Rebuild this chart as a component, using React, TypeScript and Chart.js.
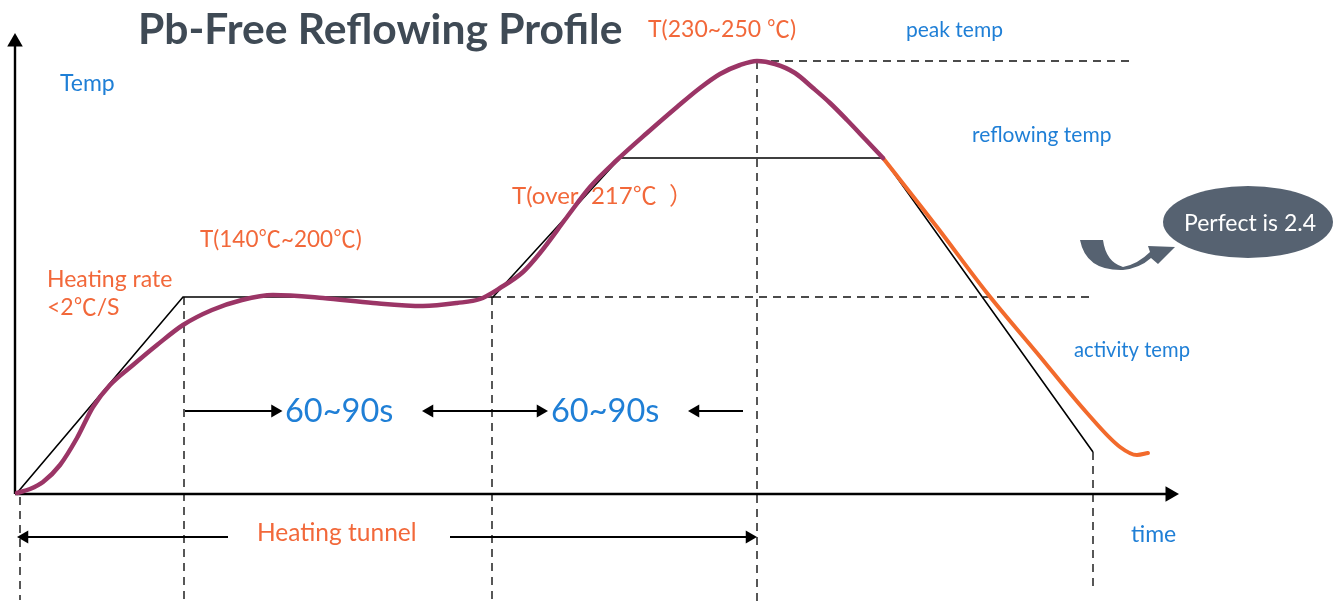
import React, { useEffect, useRef } from "react";
import { Chart, registerables } from "chart.js";
Chart.register(...registerables);

// Coordinate frame: time measured right of the origin, temperature above the time axis
const X_MIN = -17;
const X_MAX = 1317;
const Y_MIN = -112;
const Y_MAX = 493;

// Actual reflow profile (purple)
const profileTime = [0, 13, 26, 43, 60, 76, 93, 116, 140, 166, 195, 225, 256, 306, 356, 406, 440, 463, 483, 506, 523, 550, 573, 600, 630, 660, 683, 703, 723, 740, 758, 778, 796, 813, 830, 849, 866];
const profileTemp = [0, 4, 11, 28, 55, 86, 108, 128, 148, 168, 183, 193, 198, 195, 190, 187, 190, 194, 205, 221, 240, 276, 306, 333, 360, 386, 405, 419, 428, 432, 429, 420, 405, 390, 373, 353, 335];

// Cooling section (orange)
const coolTime = [866, 920, 970, 1020, 1070, 1103, 1120, 1131];
const coolTemp = [335, 266, 200, 140, 80, 46, 38, 40];

// Ideal trapezoid profile (thin black)
const idealTime = [0, 166, 476, 603, 866, 1076];
const idealTemp = [0, 196, 196, 335, 335, 41];

// Dashed guide lines [t1, T1, t2, T2]
const guideSegments = [
  [476, 196, 1076, 196],
  [740, 432, 1116, 432],
  [3, -4, 3, -107],
  [167, 196, 167, -112],
  [475, 196, 475, -112],
  [740, 432, 740, -112],
  [1076, 41, 1076, -97],
];

// Axes and dimension arrows [t1, T1, t2, T2]
const axisSegments = [
  [-2, -1, -2, 451],
  [-2, -1, 1153, -1],
];
const arrowSegments = [
  [168, 82, 258, 82],
  [412, 82, 524, 82],
  [678, 82, 726, 82],
  [7, -44, 211, -44],
  [433, -44, 733, -44],
];
// Arrowheads [t, T, rotation]
const axisHeads = [
  [-2, 451, 0],
  [1153, -1, 90],
];
const arrowHeads = [
  [258, 82, 90],
  [412.5, 82, 270],
  [523.5, 82, 90],
  [678.5, 82, 270],
  [7.5, -44, 270],
  [732.5, -44, 90],
];

// Text labels
const labelTexts = [
  "Pb-Free Reflowing Profile",
  "T(230~250 ℃)",
  "peak temp",
  "Temp",
  "reflowing temp",
  "T(over  217℃  ）",
  "T(140℃~200℃)",
  "Heating rate",
  "<2℃/S",
  "activity temp",
  "60~90s",
  "60~90s",
  "Heating tunnel",
  "time",
  "Perfect is 2.4",
];

const BLUE = "#1f7fd6";
const ORANGE = "#f2683a";
const TITLE = "#3f4a55";
const BUBBLE = "#566271";
const FONT = "Lato, 'Noto Sans CJK SC', 'DejaVu Sans', sans-serif";

// label layout: [t, T, size, color, weight, align]
const labelLayout: [number, number, number, string, string, string][] = [
  [121, 449, 42.6, TITLE, "bold", "left"],
  [631, 456, 23, ORANGE, "normal", "left"],
  [889, 456, 21, BLUE, "normal", "left"],
  [43, 402, 23, BLUE, "normal", "left"],
  [955, 351, 21, BLUE, "normal", "left"],
  [495, 289, 24, ORANGE, "normal", "left"],
  [183, 246, 22.5, ORANGE, "normal", "left"],
  [30, 206, 23, ORANGE, "normal", "left"],
  [30, 178, 23, ORANGE, "normal", "left"],
  [1057, 136, 20.2, BLUE, "normal", "left"],
  [268, 71, 32.5, BLUE, "normal", "left"],
  [534, 71, 32.5, BLUE, "normal", "left"],
  [240, -48, 24.5, ORANGE, "normal", "left"],
  [1114, -49, 23, BLUE, "normal", "left"],
  [1233, 262, 23, "#ffffff", "normal", "center"],
];

const toPoints = (xs: number[], ys: number[]) => xs.map((x, i) => ({ x, y: ys[i] }));

const annotationPlugin = {
  id: "annotations",
  beforeDatasetsDraw(chart: any) {
    const { ctx, scales } = chart;
    const px = (t: number) => scales.x.getPixelForValue(t);
    const py = (v: number) => scales.y.getPixelForValue(v);
    ctx.save();
    // speech bubble
    ctx.fillStyle = BUBBLE;
    ctx.beginPath();
    ctx.ellipse(px(1231), py(271), 85, 36, 0, 0, Math.PI * 2);
    ctx.fill();
    // curved arrow icon
    const ox = px(1061);
    const oy = py(253);
    ctx.beginPath();
    ctx.moveTo(ox + 2, oy + 0);
    ctx.quadraticCurveTo(ox + 8, oy + 31, ox + 45, oy + 30);
    ctx.quadraticCurveTo(ox + 62, oy + 28, ox + 73, oy + 18);
    ctx.lineTo(ox + 80, oy + 24);
    ctx.lineTo(ox + 97, oy + 7);
    ctx.lineTo(ox + 70, oy + 6);
    ctx.lineTo(ox + 72, oy + 12);
    ctx.quadraticCurveTo(ox + 60, oy + 24, ox + 45, oy + 27);
    ctx.quadraticCurveTo(ox + 28, oy + 22, ox + 25, oy + 0);
    ctx.closePath();
    ctx.fill();
    ctx.restore();
  },
  afterDatasetsDraw(chart: any) {
    const { ctx, scales } = chart;
    const px = (t: number) => scales.x.getPixelForValue(t);
    const py = (v: number) => scales.y.getPixelForValue(v);
    ctx.save();
    labelTexts.forEach((text, i) => {
      const [t, T, size, color, weight, align] = labelLayout[i];
      ctx.font = `${weight} ${size}px ${FONT}`;
      ctx.fillStyle = color;
      ctx.textAlign = align as CanvasTextAlign;
      ctx.textBaseline = "alphabetic";
      ctx.fillText(text, px(t), py(T));
    });
    ctx.restore();
  },
};

export default function App() {
  const canvasRef = useRef<HTMLCanvasElement | null>(null);

  useEffect(() => {
    if (!canvasRef.current) return;
    const segDataset = (s: number[], color: string, width: number, dash: number[], order: number) => ({
      type: "scatter" as const,
      data: [
        { x: s[0], y: s[1] },
        { x: s[2], y: s[3] },
      ],
      showLine: true,
      borderColor: color,
      borderWidth: width,
      borderDash: dash,
      pointRadius: 0,
      tension: 0,
      order,
    });
    const headDataset = (heads: number[][], r: number) => ({
      type: "scatter" as const,
      data: heads.map((h) => ({ x: h[0], y: h[1] })),
      showLine: false,
      pointStyle: "triangle",
      pointRotation: heads.map((h) => h[2]),
      pointRadius: r,
      pointBackgroundColor: "#000000",
      pointBorderColor: "#000000",
      pointBorderWidth: 0,
      order: 0,
    });

    const datasets: any[] = [
      {
        type: "scatter",
        data: toPoints(profileTime, profileTemp),
        showLine: true,
        borderColor: "#9b3566",
        borderWidth: 4.5,
        pointRadius: 0,
        cubicInterpolationMode: "monotone",
        borderCapStyle: "round",
        order: 1,
      },
      {
        type: "scatter",
        data: toPoints(coolTime, coolTemp),
        showLine: true,
        borderColor: "#f26a2c",
        borderWidth: 4,
        pointRadius: 0,
        cubicInterpolationMode: "monotone",
        borderCapStyle: "round",
        order: 1,
      },
      {
        type: "scatter",
        data: toPoints(idealTime, idealTemp),
        showLine: true,
        borderColor: "#000000",
        borderWidth: 1.6,
        pointRadius: 0,
        tension: 0,
        order: 2,
      },
      ...guideSegments.map((s) => segDataset(s, "#111111", 1.4, [8, 6], 3)),
      ...axisSegments.map((s) => segDataset(s, "#000000", 2.4, [], 2)),
      ...arrowSegments.map((s) => segDataset(s, "#000000", 2, [], 2)),
      headDataset(axisHeads, 9),
      headDataset(arrowHeads, 7.5),
    ];

    const chart = new Chart(canvasRef.current, {
      type: "scatter",
      data: { datasets },
      options: {
        animation: false,
        responsive: false,
        maintainAspectRatio: false,
        layout: { padding: 0, autoPadding: false },
        plugins: {
          legend: { display: false },
          tooltip: { enabled: false },
          title: { display: false },
        },
        events: [],
        scales: {
          x: { type: "linear", min: X_MIN, max: X_MAX, display: false },
          y: { type: "linear", min: Y_MIN, max: Y_MAX, display: false },
        },
      },
      plugins: [annotationPlugin],
    });
    return () => chart.destroy();
  }, []);

  return (
    <div style={{ position: "absolute", left: 0, top: 0, width: 1334, height: 605, background: "#ffffff" }}>
      <canvas ref={canvasRef} width={1334} height={605} style={{ display: "block" }} />
    </div>
  );
}
